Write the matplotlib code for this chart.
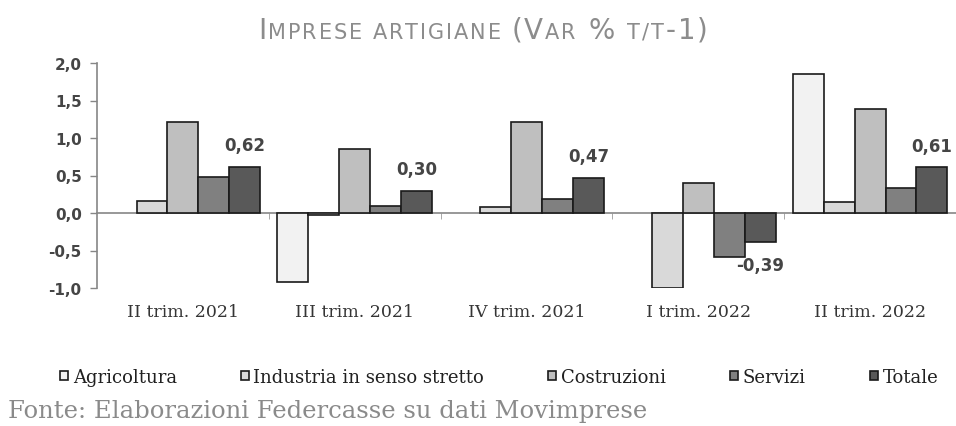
import numpy as np
import matplotlib
matplotlib.use("Agg")
import matplotlib.pyplot as plt
from matplotlib.patches import Patch

categories = ["II trim. 2021", "III trim. 2021", "IV trim. 2021", "I trim. 2022", "II trim. 2022"]
series_names = ["Agricoltura", "Industria in senso stretto", "Costruzioni", "Servizi", "Totale"]
agricoltura = [np.nan, -0.92, np.nan, np.nan, 1.85]
industria = [0.16, -0.02, 0.08, -1.00, 0.15]
costruzioni = [1.22, 0.86, 1.22, 0.40, 1.39]
servizi = [0.48, 0.09, 0.19, -0.59, 0.33]
totale = [0.62, 0.30, 0.47, -0.39, 0.61]
totale_labels = ["0,62", "0,30", "0,47", "-0,39", "0,61"]
yticks = [-1.0, -0.5, 0.0, 0.5, 1.0, 1.5, 2.0]
ytick_labels = ["-1,0", "-0,5", "0,0", "0,5", "1,0", "1,5", "2,0"]

colors = ["#f2f2f2", "#d9d9d9", "#bfbfbf", "#808080", "#595959"]
series = [agricoltura, industria, costruzioni, servizi, totale]

fig = plt.figure(figsize=(9.56, 4.27), dpi=100)
ax = fig.add_axes([97/956, (427-289)/427, 1 - 97/956, (289-64)/427])

x = np.arange(len(categories))
w = 0.18
for i, (vals, c) in enumerate(zip(series, colors)):
    bars = ax.bar(x + (i - 2) * w, vals, width=w, color=c, edgecolor="#1a1a1a", linewidth=1.2, zorder=3)
    if i == 4:
        for b, v, lab in zip(bars, vals, totale_labels):
            if v >= 0:
                ax.annotate(lab, (b.get_x() + b.get_width()/2, v), xytext=(0, 9), textcoords="offset points",
                            ha="center", va="bottom", fontsize=12, color="#454545", fontweight="bold",
                            family="DejaVu Sans")
            else:
                ax.annotate(lab, (b.get_x() + b.get_width()/2, v), xytext=(0, -10), textcoords="offset points",
                            ha="center", va="top", fontsize=12, color="#454545", fontweight="bold",
                            family="DejaVu Sans")

ax.set_xlim(-0.5, 4.5)
ax.set_ylim(-1.0, 2.0)
ax.set_yticks(yticks)
ax.set_yticklabels(ytick_labels, fontsize=11, color="#454545", fontweight="bold", family="DejaVu Sans")
ax.tick_params(axis="y", direction="out", length=5, width=1, color="#868686", pad=6)

ax.spines["top"].set_visible(False)
ax.spines["right"].set_visible(False)
ax.spines["left"].set_color("#868686")
ax.spines["left"].set_linewidth(1.2)
ax.spines["bottom"].set_position(("data", 0))
ax.spines["bottom"].set_color("#868686")
ax.spines["bottom"].set_linewidth(1.2)

ax.set_xticks(x)
ax.set_xticklabels(categories, fontsize=12.5, color="#353535", family="DejaVu Serif")
ax.tick_params(axis="x", which="major", length=0, pad=65)
ax.set_xticks(np.arange(-0.5, 5.0, 1.0)[1:-1], minor=True)
ax.tick_params(axis="x", which="minor", length=4, color="#9a9a9a", direction="out")

handles = [Patch(facecolor=c, edgecolor="#1a1a1a", linewidth=1.2) for c in colors]
fig.legend(handles, series_names, loc="center left", bbox_to_anchor=(60/956, 1 - 378/427), ncol=5,
           frameon=False, prop={"family": "DejaVu Serif", "size": 13},
           handlelength=0.45, handleheight=0.45, handletextpad=0.25, columnspacing=3.55,
           labelcolor="#202020", borderaxespad=0, borderpad=0)

# Title in simulated small caps with letter tracking
title_segments = [("I", 20), ("MPRESE ARTIGIANE ", 15), ("(V", 20), ("AR", 15), (" % ", 20),
                  ("T/T", 15), ("-1)", 20)]
chars = []
for s, sz in title_segments:
    for ch in s:
        chars.append((ch, sz))
texts = []
for ch, sz in chars:
    t = fig.text(0, 1 - 39/427, ch, fontsize=sz, color="#8c8c8c", family="DejaVu Sans",
                 va="baseline", ha="left")
    texts.append(t)
fig.canvas.draw()
r = fig.canvas.get_renderer()
widths = []
for (ch, sz), t in zip(chars, texts):
    if ch == " ":
        widths.append(sz * 100 / 72 * 0.32)
    else:
        widths.append(t.get_window_extent(r).width)
target = 450
extra = (target - sum(widths)) / (len(chars) - 1)
start = 258
for t, wd in zip(texts, widths):
    t.set_x(start / 956)
    start += wd + extra

fig.text(8/956, 1 - 412/427, "Fonte: Elaborazioni Federcasse su dati Movimprese", fontsize=17.5,
         color="#8a8a8a", family="DejaVu Serif", va="center", ha="left")

fig.savefig("out.png", dpi=100)
